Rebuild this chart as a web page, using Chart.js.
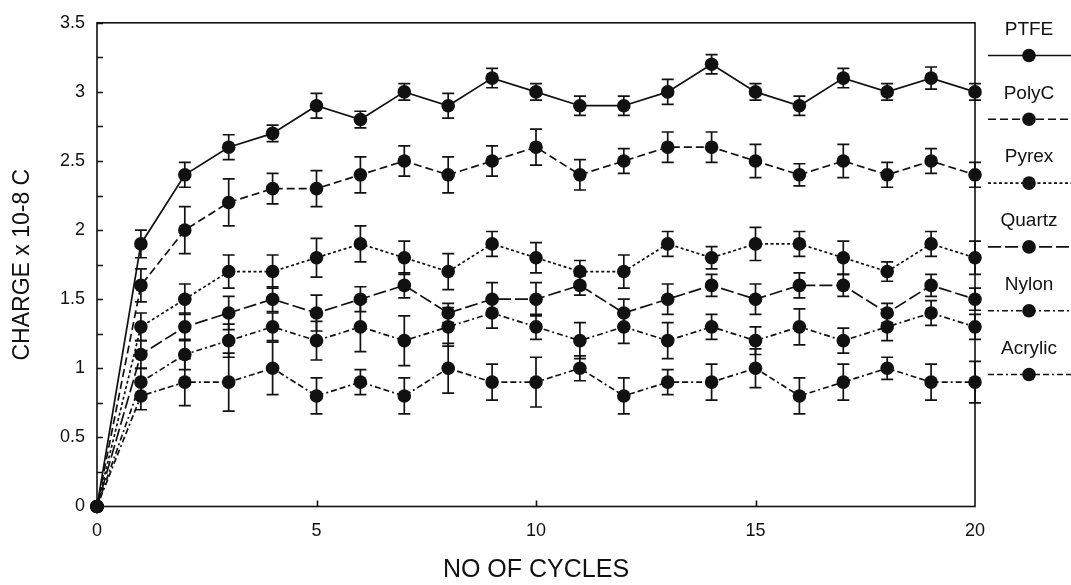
<!DOCTYPE html>
<html>
<head>
<meta charset="utf-8">
<script src="https://cdn.jsdelivr.net/npm/chart.js@4.4.1/dist/chart.umd.min.js"></script>
<style>
  html, body { margin: 0; padding: 0; background: #fff; }
  canvas { display: block; }
</style>
</head>
<body>
<canvas id="chart" width="1071" height="585"></canvas>
<script>
const cycles = [0, 1, 2, 3, 4, 5, 6, 7, 8, 9, 10, 11, 12, 13, 14, 15, 16, 17, 18, 19, 20];

const ptfe = [0, 1.9, 2.4, 2.6, 2.7, 2.9, 2.8, 3.0, 2.9, 3.1, 3.0, 2.9, 2.9, 3.0, 3.2, 3.0, 2.9, 3.1, 3.0, 3.1, 3.0];
const ptfeErr = [0, 0.1, 0.09, 0.09, 0.06, 0.09, 0.06, 0.06, 0.09, 0.07, 0.06, 0.07, 0.07, 0.09, 0.07, 0.06, 0.07, 0.07, 0.06, 0.08, 0.06];

const polyC = [0, 1.6, 2.0, 2.2, 2.3, 2.3, 2.4, 2.5, 2.4, 2.5, 2.6, 2.4, 2.5, 2.6, 2.6, 2.5, 2.4, 2.5, 2.4, 2.5, 2.4];
const polyCErr = [0, 0.12, 0.17, 0.17, 0.11, 0.13, 0.13, 0.11, 0.13, 0.11, 0.13, 0.11, 0.09, 0.11, 0.11, 0.12, 0.08, 0.12, 0.09, 0.09, 0.09];

const pyrex = [0, 1.3, 1.5, 1.7, 1.7, 1.8, 1.9, 1.8, 1.7, 1.9, 1.8, 1.7, 1.7, 1.9, 1.8, 1.9, 1.9, 1.8, 1.7, 1.9, 1.8];
const pyrexErr = [0, 0.1, 0.11, 0.12, 0.12, 0.14, 0.13, 0.12, 0.13, 0.09, 0.11, 0.08, 0.12, 0.09, 0.08, 0.12, 0.09, 0.12, 0.07, 0.09, 0.12];

const quartz = [0, 1.1, 1.3, 1.4, 1.5, 1.4, 1.5, 1.6, 1.4, 1.5, 1.5, 1.6, 1.4, 1.5, 1.6, 1.5, 1.6, 1.6, 1.4, 1.6, 1.5];
const quartzErr = [0, 0.1, 0.1, 0.12, 0.09, 0.13, 0.09, 0.09, 0.07, 0.12, 0.12, 0.07, 0.1, 0.11, 0.08, 0.11, 0.09, 0.08, 0.07, 0.08, 0.08];

const nylon = [0, 0.9, 1.1, 1.2, 1.3, 1.2, 1.3, 1.2, 1.3, 1.4, 1.3, 1.2, 1.3, 1.2, 1.3, 1.2, 1.3, 1.2, 1.3, 1.4, 1.3];
const nylonErr = [0, 0.1, 0.11, 0.12, 0.1, 0.14, 0.18, 0.18, 0.14, 0.11, 0.09, 0.13, 0.12, 0.13, 0.09, 0.1, 0.13, 0.09, 0.1, 0.09, 0.09];

const acrylic = [0, 0.8, 0.9, 0.9, 1.0, 0.8, 0.9, 0.8, 1.0, 0.9, 0.9, 1.0, 0.8, 0.9, 0.9, 1.0, 0.8, 0.9, 1.0, 0.9, 0.9];
const acrylicErr = [0, 0.1, 0.17, 0.21, 0.19, 0.13, 0.09, 0.13, 0.18, 0.13, 0.18, 0.09, 0.13, 0.09, 0.13, 0.14, 0.13, 0.13, 0.08, 0.13, 0.15];

const FONT = '"Liberation Sans", Arial, Helvetica, sans-serif';
const INK = '#111';

function series(label, values, errors, dash) {
  return {
    label: label,
    data: cycles.map((c, i) => ({x: c, y: values[i]})),
    errors: errors,
    borderColor: INK,
    backgroundColor: INK,
    borderWidth: 1.7,
    borderDash: dash,
    pointRadius: 6.8,
    pointHoverRadius: 6.8,
    pointBackgroundColor: INK,
    pointBorderWidth: 0,
    tension: 0,
    fill: false,
    clip: false
  };
}

// error bars drawn under the markers
const errorBars = {
  id: 'errorBars',
  beforeDatasetsDraw(chart) {
    const ctx = chart.ctx;
    const ys = chart.scales.y;
    ctx.save();
    ctx.strokeStyle = INK;
    ctx.lineWidth = 1.7;
    ctx.setLineDash([]);
    chart.data.datasets.forEach((ds, di) => {
      const meta = chart.getDatasetMeta(di);
      meta.data.forEach((pt, i) => {
        const e = ds.errors[i];
        if (!e) return;
        const v = ds.data[i].y;
        const top = ys.getPixelForValue(v + e);
        const bot = ys.getPixelForValue(v - e);
        const x = pt.x, w = 6;
        ctx.beginPath();
        ctx.moveTo(x, top); ctx.lineTo(x, bot);
        ctx.moveTo(x - w, top); ctx.lineTo(x + w, top);
        ctx.moveTo(x - w, bot); ctx.lineTo(x + w, bot);
        ctx.stroke();
      });
    });
    ctx.restore();
  }
};

// frame, inward ticks and the legend on the right
const frame = {
  id: 'frame',
  afterDraw(chart) {
    const ctx = chart.ctx;
    const a = chart.chartArea;
    const xs = chart.scales.x, ys = chart.scales.y;
    ctx.save();
    ctx.strokeStyle = INK;
    ctx.lineWidth = 1.6;
    ctx.setLineDash([]);
    ctx.strokeRect(a.left, a.top, a.right - a.left, a.bottom - a.top);

    ctx.beginPath();
    for (let v = 0; v <= 3.5001; v += 0.25) {
      const y = Math.round(ys.getPixelForValue(v)) + 0.5;
      ctx.moveTo(a.left, y);
      ctx.lineTo(a.left + 6, y);
    }
    for (let v = 5; v < 20; v += 5) {
      const x = Math.round(xs.getPixelForValue(v)) + 0.5;
      ctx.moveTo(x, a.bottom);
      ctx.lineTo(x, a.bottom - 6);
    }
    ctx.stroke();

    // legend
    const x0 = a.right + 13, x1 = chart.width, xc = 1029;
    ctx.font = '19px ' + FONT;
    ctx.fillStyle = INK;
    ctx.textAlign = 'center';
    ctx.textBaseline = 'middle';
    chart.data.datasets.forEach((ds, i) => {
      const yy = 55.5 + i * 63.8;
      ctx.fillText(ds.label, xc, yy - 26);
      ctx.setLineDash(ds.borderDash);
      ctx.beginPath();
      ctx.moveTo(x0, yy);
      ctx.lineTo(x1, yy);
      ctx.stroke();
      ctx.setLineDash([]);
      ctx.beginPath();
      ctx.arc(xc, yy, 6.8, 0, Math.PI * 2);
      ctx.fill();
    });
    ctx.restore();
  }
};

new Chart(document.getElementById('chart').getContext('2d'), {
  type: 'line',
  data: {
    datasets: [
      series('PTFE', ptfe, ptfeErr, []),
      series('PolyC', polyC, polyCErr, [8, 4]),
      series('Pyrex', pyrex, pyrexErr, [3, 2.5]),
      series('Quartz', quartz, quartzErr, [13, 4]),
      series('Nylon', nylon, nylonErr, [6, 3, 2, 3]),
      series('Acrylic', acrylic, acrylicErr, [6, 3, 6, 3, 2, 3])
    ]
  },
  options: {
    responsive: false,
    animation: false,
    layout: { padding: { top: 20, right: 96, left: 0, bottom: 0 } },
    plugins: { legend: { display: false }, tooltip: { enabled: false } },
    scales: {
      x: {
        type: 'linear',
        min: 0, max: 20,
        grid: { display: false, drawTicks: false },
        border: { display: false },
        ticks: { stepSize: 5, padding: 14, color: INK, font: { family: FONT, size: 18 } },
        title: { display: true, text: 'NO OF CYCLES', color: INK, font: { family: FONT, size: 25 }, padding: { top: 6, bottom: 0 } },
        afterFit(s) { s.height = 78.5; }
      },
      y: {
        min: 0, max: 3.5,
        grid: { display: false, drawTicks: false },
        border: { display: false },
        ticks: {
          stepSize: 0.5, padding: 12, color: INK, font: { family: FONT, size: 18 },
          callback: v => String(v)
        },
        title: { display: true, text: 'CHARGE x 10-8 C', color: INK, font: { family: FONT, size: 23 }, padding: { top: 9, bottom: 0 } },
        afterFit(s) { s.width = 97; }
      }
    }
  },
  plugins: [errorBars, frame]
});
</script>
</body>
</html>
